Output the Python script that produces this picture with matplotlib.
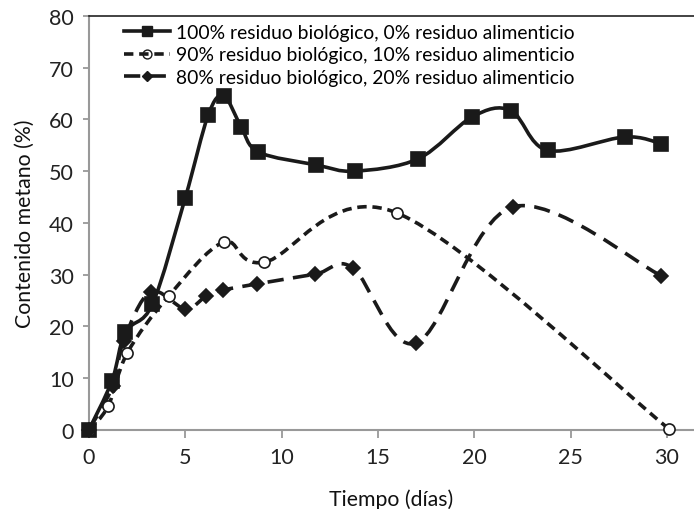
import numpy as np
import matplotlib
matplotlib.use("Agg")
import matplotlib.pyplot as plt
from matplotlib.path import Path
from matplotlib.patches import PathPatch
from matplotlib.lines import Line2D

plt.rcParams['font.family'] = ['Lato', 'DejaVu Sans']

# contenido de metano (%) frente al tiempo (días)
dias_100 = [0, 1.2, 1.9, 3.3, 5.0, 6.2, 7.0, 7.9, 8.8, 11.8, 13.8, 17.1, 19.9, 21.9, 23.8, 27.8, 29.7]
metano_100 = [0, 9.5, 18.9, 24.3, 44.8, 60.9, 64.5, 58.6, 53.7, 51.2, 50.0, 52.4, 60.5, 61.7, 54.0, 56.6, 55.3]

dias_90 = [0, 1.0, 2.0, 4.15, 7.0, 9.1, 16.0, 30.1]
metano_90 = [0, 4.6, 14.9, 25.9, 36.3, 32.4, 41.9, 0.2]

dias_80 = [0, 1.25, 1.8, 3.2, 5.0, 6.1, 6.95, 8.7, 11.75, 13.7, 17.0, 22.0, 29.7]
metano_80 = [0, 8.5, 17.2, 26.7, 23.4, 25.9, 27.0, 28.2, 30.1, 31.3, 16.8, 43.1, 29.8]

etiquetas = ["100% residuo biológico, 0% residuo alimenticio",
             "90% residuo biológico, 10% residuo alimenticio",
             "80% residuo biológico, 20% residuo alimenticio"]


def curva_suave(x, y):
    # Catmull-Rom convertido a tramos Bezier cúbicos (suavizado tipo hoja de cálculo)
    x = np.asarray(x, float)
    y = np.asarray(y, float)
    n = len(x)
    verts = [(x[0], y[0])]
    codes = [Path.MOVETO]
    for i in range(n - 1):
        i0 = max(i - 1, 0)
        i3 = min(i + 2, n - 1)
        c1 = (x[i] + (x[i + 1] - x[i0]) / 6, y[i] + (y[i + 1] - y[i0]) / 6)
        c2 = (x[i + 1] - (x[i3] - x[i]) / 6, y[i + 1] - (y[i3] - y[i]) / 6)
        verts += [c1, c2, (x[i + 1], y[i + 1])]
        codes += [Path.CURVE4] * 3
    return Path(verts, codes)


fig = plt.figure(figsize=(6.94, 5.10), dpi=100)
ax = fig.add_axes([0.128, 0.155, 0.872, 0.812])

estilos = [
    dict(x=dias_100, y=metano_100, ls='-', marker='s', ms=9.5, mfc='#1a1a1a', mfc_ley='#1a1a1a'),
    dict(x=dias_90, y=metano_90, ls=(0, (2.6, 1.6)), marker='o', ms=8, mfc='white', mfc_ley='none'),
    dict(x=dias_80, y=metano_80, ls=(0, (4.5, 2.6)), marker='D', ms=7, mfc='#1a1a1a', mfc_ley='#1a1a1a'),
]

handles = []
for est, lab in zip(estilos, etiquetas):
    patch = PathPatch(curva_suave(est['x'], est['y']), fill=False, ec='#1a1a1a',
                      lw=2.6, ls=est['ls'], capstyle='butt', zorder=2)
    ax.add_patch(patch)
    ax.plot(est['x'], est['y'], ls='none', marker=est['marker'], ms=est['ms'],
            mfc=est['mfc'], mec='#1a1a1a', mew=1.2, zorder=3, clip_on=False)
    handles.append(Line2D([], [], color='#1a1a1a', lw=2.6, ls=est['ls'],
                          marker=est['marker'], ms=est['ms'] * 0.8,
                          mfc=est['mfc_ley'], mec='#1a1a1a'))

ax.set_xlim(0, 31.4)
ax.set_ylim(0, 80)
ax.set_xticks(range(0, 31, 5))
ax.set_yticks(range(0, 81, 10))
ax.tick_params(axis='both', labelsize=15.5, colors='#999999', labelcolor='#222222',
               width=1.3)
ax.tick_params(axis='x', length=6, pad=6)
ax.tick_params(axis='y', length=4, pad=7)

for lado in ['left', 'bottom']:
    ax.spines[lado].set_color('#999999')
    ax.spines[lado].set_linewidth(1.5)
ax.spines['right'].set_visible(False)
ax.spines['top'].set_color('#222222')
ax.spines['top'].set_linewidth(1.2)

ax.set_xlabel('Tiempo (días)', fontsize=15.3, color='#111111', labelpad=16)
ax.set_ylabel('Contenido metano (%)', fontsize=15.3, color='#111111', labelpad=10)

ax.legend(handles, etiquetas, loc='upper left', bbox_to_anchor=(0.045, 1.0),
          frameon=False, fontsize=13.9, handlelength=2.4, handletextpad=0.3,
          labelspacing=0.3, borderaxespad=0)

fig.savefig('out.png', dpi=100)
